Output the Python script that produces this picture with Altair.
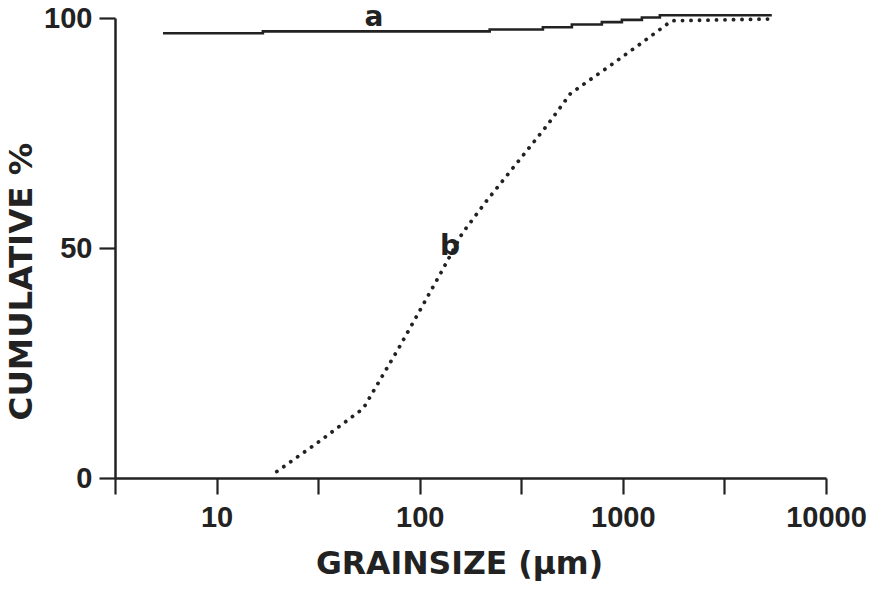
import altair as alt
import pandas as pd

# curve a (solid step line)
a_size = [5.45, 16.9, 221, 404, 561, 788, 989, 1241, 1521, 5410]
a_cum = [96.7, 97.1, 97.5, 98.0, 98.6, 99.1, 99.6, 100.1, 100.6, 100.6]

# curve b (dotted)
b_size = [19.8, 31.7, 52.7, 79, 98.4, 129, 162, 213, 421, 553, 832, 1213, 1738, 5600]
b_cum = [1.4, 7.8, 15.1, 28.3, 35.8, 45.1, 53.2, 60.2, 76.5, 83.6, 89.1, 94.3, 99.4, 99.8]

# curve labels
lab_text = ["a", "b"]
lab_size = [59.6, 141]
lab_cum = [100.1, 50.3]

x_ticks = [3.1623, 10, 31.623, 100, 316.23, 1000, 3162.3, 10000]
y_ticks = [0, 50, 100]

ink = "#222222"

df_a = pd.DataFrame({"size": a_size, "cum": a_cum})
df_b = pd.DataFrame({"size": b_size, "cum": b_cum})
df_l = pd.DataFrame({"size": lab_size, "cum": lab_cum, "t": lab_text})

xscale = alt.Scale(type="log", domain=[3.1623, 10000], nice=False)
yscale = alt.Scale(domain=[0, 100], nice=False)

xaxis = alt.Axis(
    values=x_ticks,
    labelExpr="(datum.value == 10 || datum.value == 100 || datum.value == 1000 || datum.value == 10000) ? format(datum.value, 'd') : ''",
    title="GRAINSIZE (µm)",
    grid=False,
    tickSize=16, tickWidth=2.2, tickColor=ink,
    domainWidth=2.5, domainColor=ink,
    labelFont="Liberation Sans", labelFontSize=29, labelFontWeight="bold", labelColor=ink,
    labelPadding=9, labelFlush=False, labelOverlap=False,
    titleFont="DejaVu Sans", titleFontSize=31.5, titleFontWeight="bold", titleColor=ink,
    titleX=344, titleY=95, titleAlign="center", titleBaseline="alphabetic",
)
yaxis = alt.Axis(
    values=y_ticks,
    title="CUMULATIVE %",
    grid=False,
    tickSize=16, tickWidth=2.2, tickColor=ink,
    domainWidth=2.5, domainColor=ink,
    labelFont="Liberation Sans", labelFontSize=29, labelFontWeight="bold", labelColor=ink,
    labelPadding=7,
    titleFont="DejaVu Sans", titleFontSize=32.5, titleFontWeight="bold", titleColor=ink,
    titleX=-84, titleY=263, titleAlign="center", titleBaseline="alphabetic", titleAngle=270,
)

line_a = alt.Chart(df_a).mark_line(
    interpolate="step-after", color=ink, strokeWidth=2.6
).encode(
    x=alt.X("size:Q", scale=xscale, axis=xaxis),
    y=alt.Y("cum:Q", scale=yscale, axis=yaxis),
)

line_b = alt.Chart(df_b).mark_line(
    color=ink, strokeWidth=3.8, strokeDash=[0.1, 8.4], strokeCap="round"
).encode(
    x=alt.X("size:Q", scale=xscale),
    y=alt.Y("cum:Q", scale=yscale),
)

labels = alt.Chart(df_l).mark_text(
    font="DejaVu Sans", fontSize=28, fontWeight="bold", color=ink, baseline="middle", align="center"
).encode(
    x=alt.X("size:Q", scale=xscale),
    y=alt.Y("cum:Q", scale=yscale),
    text="t:N",
)

chart = alt.layer(line_a, line_b, labels).properties(
    width=711, height=460,
    autosize=alt.AutoSizeParams(type="none"),
    padding={"left": 107, "top": 10, "right": 50, "bottom": 103},
    background="white",
).configure_view(stroke=None)

chart.save("out.html", embed_options={"renderer": "svg", "actions": False})
